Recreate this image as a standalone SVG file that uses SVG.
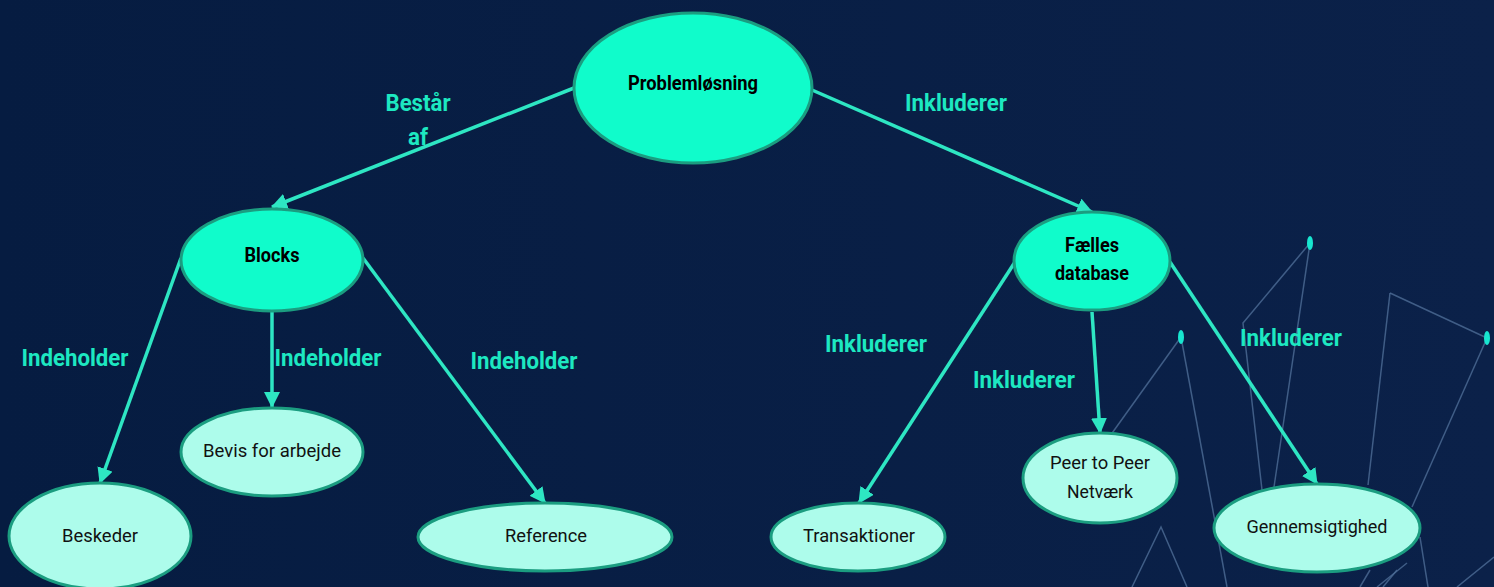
<svg xmlns="http://www.w3.org/2000/svg" width="1494" height="587" viewBox="0 0 1494 587">
  <defs>
    <linearGradient id="bg" x1="0" y1="0" x2="1" y2="0">
      <stop offset="0" stop-color="#061c41"/>
      <stop offset="1" stop-color="#0b2149"/>
    </linearGradient>
    <marker id="arrow" markerUnits="userSpaceOnUse" markerWidth="16" markerHeight="16" viewBox="0 0 16 16" refX="15" refY="8" orient="auto">
      <path d="M0,0 L16,8 L0,16 Z" fill="#2ee6c3"/>
    </marker>
    <style>
      .main ellipse { fill: #10fccb; stroke: #1b9d80; stroke-width: 3; }
      .leaf ellipse { fill: #adfceb; stroke: #1b9d80; stroke-width: 3; }
      .main text { font-family: Roboto, "Liberation Sans", sans-serif; font-weight: bold; font-size: 20px; fill: #000; text-anchor: middle; }
      .leaf text { font-family: Roboto, "Liberation Sans", sans-serif; font-size: 19px; fill: #111; text-anchor: middle; }
      .edge { stroke: #2ee6c3; stroke-width: 3.5; fill: none; marker-end: url(#arrow); }
      .lbl { font-family: Roboto, "Liberation Sans", sans-serif; font-weight: bold; font-size: 24px; fill: #1de8c1; text-anchor: middle; }
      .deco { stroke: #4d6d96; stroke-width: 1.5; fill: none; opacity: 0.8; }
      .dot { fill: #18e6d0; }
    </style>
  </defs>
  <rect x="0" y="0" width="1494" height="587" fill="url(#bg)"/>

  <g id="decoration">
    <path class="deco" d="M1310,243 L1243,323 L1262,490"/>
    <path class="deco" d="M1310,243 L1274,487"/>
    <path class="deco" d="M1181,337 L1110,436"/>
    <path class="deco" d="M1181,337 L1227,587"/>
    <path class="deco" d="M1390,293 L1487,338" stroke-width="3.5"/>
    <path class="deco" d="M1390,293 L1368,485"/>
    <path class="deco" d="M1487,338 L1412,507"/>
    <path class="deco" d="M1132,587 L1161,527 L1187,587"/>
    <path class="deco" d="M1420,537 L1428,587"/>
    <path class="deco" d="M1457,587 L1494,557" stroke="#5d8fb5" stroke-width="3"/>
    <path class="deco" d="M1370,570 L1360,587"/>
    <path class="deco" d="M1407,563 L1377,587" stroke="#5d8fb5" stroke-width="2.5"/>
    <path class="deco" d="M1397,570 L1383,587"/>
    <ellipse class="dot" cx="1310" cy="243" rx="3" ry="7"/>
    <ellipse class="dot" cx="1181" cy="337" rx="3" ry="7"/>
    <ellipse class="dot" cx="1487" cy="338" rx="3" ry="7"/>
  </g>

  <g id="connectors">
    <line class="edge" x1="574" y1="88" x2="272" y2="207"/>
    <line class="edge" x1="812" y1="90" x2="1092" y2="212"/>
    <line class="edge" x1="181" y1="258" x2="100" y2="483"/>
    <line class="edge" x1="272" y1="312" x2="272" y2="407"/>
    <line class="edge" x1="363" y1="258" x2="545" y2="503"/>
    <line class="edge" x1="1015" y1="262" x2="859" y2="503"/>
    <line class="edge" x1="1092" y1="312" x2="1100" y2="433"/>
    <line class="edge" x1="1170" y1="262" x2="1317" y2="484"/>
  </g>

  <g id="edge-labels">
    <text class="lbl" x="418" y="111" textLength="65" lengthAdjust="spacingAndGlyphs">Består</text>
    <text class="lbl" x="418" y="145" textLength="20" lengthAdjust="spacingAndGlyphs">af</text>
    <text class="lbl" x="956" y="111" textLength="102" lengthAdjust="spacingAndGlyphs">Inkluderer</text>
    <text class="lbl" x="75" y="366" textLength="107" lengthAdjust="spacingAndGlyphs">Indeholder</text>
    <text class="lbl" x="328" y="366" textLength="107" lengthAdjust="spacingAndGlyphs">Indeholder</text>
    <text class="lbl" x="524" y="369" textLength="107" lengthAdjust="spacingAndGlyphs">Indeholder</text>
    <text class="lbl" x="876" y="352" textLength="102" lengthAdjust="spacingAndGlyphs">Inkluderer</text>
    <text class="lbl" x="1024" y="388" textLength="102" lengthAdjust="spacingAndGlyphs">Inkluderer</text>
    <text class="lbl" x="1291" y="346" textLength="102" lengthAdjust="spacingAndGlyphs">Inkluderer</text>
  </g>

  <g id="node-problemloesning" class="main">
    <ellipse cx="693" cy="88" rx="119" ry="75"/>
    <text x="693" y="90" textLength="130" lengthAdjust="spacingAndGlyphs">Problemløsning</text>
  </g>
  <g id="node-blocks" class="main">
    <ellipse cx="272" cy="260" rx="91" ry="51"/>
    <text x="272" y="262" textLength="55" lengthAdjust="spacingAndGlyphs">Blocks</text>
  </g>
  <g id="node-faelles-database" class="main">
    <ellipse cx="1092" cy="261" rx="78" ry="49"/>
    <text x="1092" y="252" textLength="54" lengthAdjust="spacingAndGlyphs">Fælles</text>
    <text x="1092" y="280" textLength="74" lengthAdjust="spacingAndGlyphs">database</text>
  </g>
  <g id="node-beskeder" class="leaf">
    <ellipse cx="100" cy="536" rx="91" ry="53"/>
    <text x="100" y="542" textLength="76" lengthAdjust="spacingAndGlyphs">Beskeder</text>
  </g>
  <g id="node-bevis" class="leaf">
    <ellipse cx="272" cy="452" rx="91" ry="44"/>
    <text x="272" y="457" textLength="138" lengthAdjust="spacingAndGlyphs">Bevis for arbejde</text>
  </g>
  <g id="node-reference" class="leaf">
    <ellipse cx="545" cy="537" rx="127" ry="34"/>
    <text x="546" y="542" textLength="82" lengthAdjust="spacingAndGlyphs">Reference</text>
  </g>
  <g id="node-transaktioner" class="leaf">
    <ellipse cx="858" cy="537" rx="87" ry="34"/>
    <text x="859" y="542" textLength="112" lengthAdjust="spacingAndGlyphs">Transaktioner</text>
  </g>
  <g id="node-peer" class="leaf">
    <ellipse cx="1100" cy="478" rx="77" ry="45"/>
    <text x="1100" y="469" textLength="100" lengthAdjust="spacingAndGlyphs">Peer to Peer</text>
    <text x="1100" y="498" textLength="66" lengthAdjust="spacingAndGlyphs">Netværk</text>
  </g>
  <g id="node-gennemsigtighed" class="leaf">
    <ellipse cx="1317" cy="528" rx="103" ry="44"/>
    <text x="1317" y="533" textLength="141" lengthAdjust="spacingAndGlyphs">Gennemsigtighed</text>
  </g>
</svg>
